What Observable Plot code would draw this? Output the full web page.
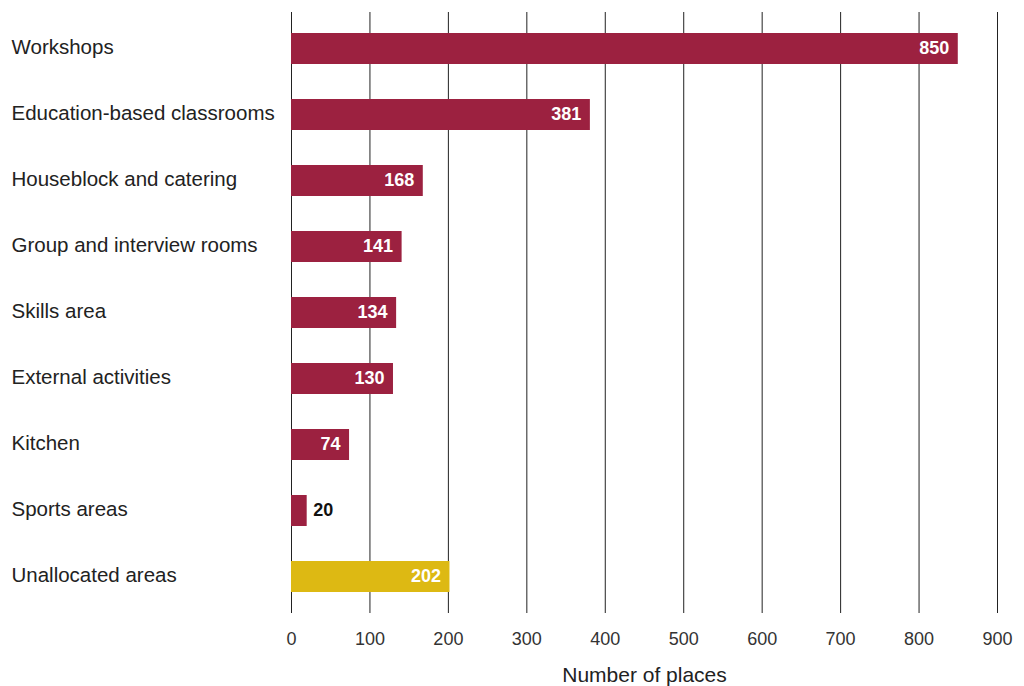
<!DOCTYPE html>
<html>
<head>
<meta charset="utf-8">
<script src="https://cdn.jsdelivr.net/npm/d3@7"></script>
<script src="https://cdn.jsdelivr.net/npm/@observablehq/plot@0.6"></script>
<style>
  html, body { margin: 0; padding: 0; background: #fff; }
  #chart svg { display: block; }
</style>
</head>
<body>
<div id="chart"></div>
<script>
const categories = [
  "Workshops",
  "Education-based classrooms",
  "Houseblock and catering",
  "Group and interview rooms",
  "Skills area",
  "External activities",
  "Kitchen",
  "Sports areas",
  "Unallocated areas"
];
const places = [850, 381, 168, 141, 134, 130, 74, 20, 202];
const groups = ["allocated", "allocated", "allocated", "allocated", "allocated", "allocated", "allocated", "allocated", "unallocated"];
const xTicks = [0, 100, 200, 300, 400, 500, 600, 700, 800, 900];
const axisTitle = "Number of places";

const data = categories.map((c, i) => ({category: c, value: places[i], group: groups[i]}));
const inside = data.filter(d => d.value >= 50);
const outside = data.filter(d => d.value < 50);

const font = "'Liberation Sans', Arial, Helvetica, sans-serif";

const chart = Plot.plot({
  width: 1024,
  height: 686,
  marginLeft: 291,
  marginRight: 27,
  marginTop: 14,
  marginBottom: 75,
  style: {fontFamily: font, fontSize: "18px", color: "#222", background: "#fff"},
  x: {domain: [0, 900], ticks: xTicks, axis: null},
  y: {domain: categories, paddingInner: 0.53, paddingOuter: 0.265, axis: null},
  color: {domain: ["allocated", "unallocated"], range: ["#9c2140", "#ddb913"]},
  marks: [
    Plot.ruleX(xTicks, {stroke: "#222", strokeWidth: 1, insetTop: -2, insetBottom: -2}),
    Plot.barX(data, {x: "value", y: "category", fill: "group"}),
    Plot.text(inside, {x: "value", y: "category", text: d => String(d.value), textAnchor: "end", dx: -9, dy: -1, fill: "white", fontWeight: "bold", fontSize: 18}),
    Plot.text(outside, {x: "value", y: "category", text: d => String(d.value), textAnchor: "start", dx: 6, dy: -1, fill: "#111", fontWeight: "bold", fontSize: 18}),
    Plot.text(categories, {y: d => d, text: d => d, frameAnchor: "left", textAnchor: "start", dx: -280, dy: -2, fill: "#222", fontSize: 20.5}),
    Plot.axisX({ticks: xTicks, tickSize: 0, tickPadding: 21, fontSize: 18, fill: "#333", label: null}),
    Plot.text([axisTitle], {frameAnchor: "bottom", dy: 70, fontSize: 21, fill: "#222"})
  ]
});
document.getElementById("chart").appendChild(chart);
</script>
</body>
</html>
